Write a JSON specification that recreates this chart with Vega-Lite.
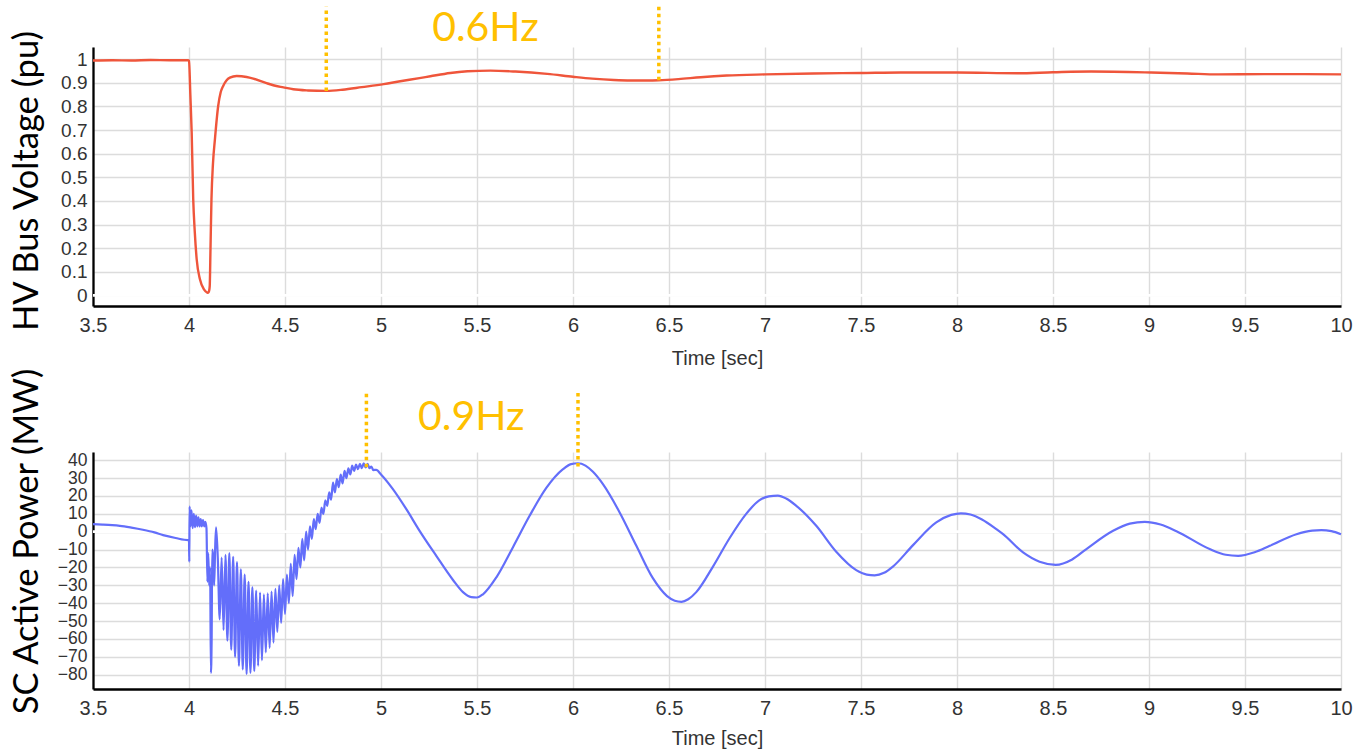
{
  "$schema": "https://vega.github.io/schema/vega-lite/v6.json",
  "background": "white",
  "padding": {"left": 8, "top": 5, "right": 12, "bottom": 2},
  "bounds": "flush",
  "spacing": 146,
  "config": {
    "font": "Liberation Sans",
    "view": {"stroke": null},
    "axis": {
      "domainColor": "#000000",
      "domainWidth": 2.3,
      "ticks": false,
      "gridColor": "#dcdcdc",
      "gridWidth": 1.4,
      "labelFont": "Liberation Sans",
      "labelColor": "#333333",
      "labelOverlap": false,
      "labelFlush": false
    },
    "axisX": {
      "labelFontSize": 20,
      "labelPadding": 9,
      "titleFont": "Liberation Sans",
      "titleFontSize": 20,
      "titleFontWeight": "normal",
      "titleColor": "#333333"
    },
    "axisY": {
      "labelFontSize": 19,
      "labelPadding": 6,
      "titleFont": "Lato",
      "titleFontSize": 34.5,
      "titleFontWeight": "normal",
      "titleColor": "#000000",
      "titleAngle": 270,
      "titleAlign": "center",
      "titleBaseline": "alphabetic",
      "titleX": -56
    }
  },
  "datasets": {
    "voltage": [
      {"t": 3.5, "v": 0.995}, {"t": 3.6, "v": 0.996}, {"t": 3.7, "v": 0.995}, {"t": 3.8, "v": 0.997}, {"t": 3.9, "v": 0.996},
      {"t": 3.995, "v": 0.996}, {"t": 4.0, "v": 0.994}, {"t": 4.007, "v": 0.85}, {"t": 4.014, "v": 0.689}, {"t": 4.022, "v": 0.407},
      {"t": 4.03, "v": 0.27}, {"t": 4.04, "v": 0.153}, {"t": 4.057, "v": 0.068}, {"t": 4.078, "v": 0.025}, {"t": 4.095, "v": 0.012},
      {"t": 4.1, "v": 0.011}, {"t": 4.105, "v": 0.02}, {"t": 4.108, "v": 0.04}, {"t": 4.112, "v": 0.2}, {"t": 4.117, "v": 0.407},
      {"t": 4.125, "v": 0.56}, {"t": 4.135, "v": 0.661}, {"t": 4.152, "v": 0.802}, {"t": 4.165, "v": 0.86}, {"t": 4.178, "v": 0.887},
      {"t": 4.195, "v": 0.91}, {"t": 4.213, "v": 0.922}, {"t": 4.248, "v": 0.929}, {"t": 4.3, "v": 0.925}, {"t": 4.335, "v": 0.918},
      {"t": 4.4, "v": 0.9}, {"t": 4.439, "v": 0.89}, {"t": 4.492, "v": 0.881}, {"t": 4.543, "v": 0.873}, {"t": 4.62, "v": 0.868},
      {"t": 4.715, "v": 0.866}, {"t": 4.8, "v": 0.871}, {"t": 4.9, "v": 0.882}, {"t": 5.014, "v": 0.895}, {"t": 5.1, "v": 0.907},
      {"t": 5.2, "v": 0.92}, {"t": 5.257, "v": 0.928}, {"t": 5.361, "v": 0.942}, {"t": 5.45, "v": 0.949}, {"t": 5.57, "v": 0.952},
      {"t": 5.7, "v": 0.948}, {"t": 5.866, "v": 0.938}, {"t": 6.0, "v": 0.926}, {"t": 6.1, "v": 0.918}, {"t": 6.213, "v": 0.912},
      {"t": 6.3, "v": 0.91}, {"t": 6.387, "v": 0.91}, {"t": 6.447, "v": 0.911}, {"t": 6.55, "v": 0.916}, {"t": 6.665, "v": 0.924},
      {"t": 6.8, "v": 0.931}, {"t": 7.0, "v": 0.936}, {"t": 7.25, "v": 0.94}, {"t": 7.5, "v": 0.942}, {"t": 7.708, "v": 0.944},
      {"t": 8.0, "v": 0.944}, {"t": 8.316, "v": 0.941}, {"t": 8.5, "v": 0.945}, {"t": 8.698, "v": 0.948}, {"t": 9.011, "v": 0.944},
      {"t": 9.2, "v": 0.94}, {"t": 9.359, "v": 0.936}, {"t": 9.6, "v": 0.937}, {"t": 9.8, "v": 0.937}, {"t": 10.0, "v": 0.936}
    ],
    "power": [
      {"t": 3.5, "v": 4.2}, {"t": 3.55, "v": 4.0}, {"t": 3.6, "v": 3.7}, {"t": 3.64, "v": 3.3}, {"t": 3.7, "v": 2.3},
      {"t": 3.76, "v": 1.1}, {"t": 3.82, "v": -0.4}, {"t": 3.865, "v": -1.9}, {"t": 3.93, "v": -3.5}, {"t": 3.995, "v": -4.7},
      {"t": 4.0, "v": -4.7}, {"t": 4.0015, "v": -16.8}, {"t": 4.003, "v": 14}, {"t": 4.008, "v": 3}, {"t": 4.013, "v": 12},
      {"t": 4.019, "v": 2}, {"t": 4.025, "v": 10}, {"t": 4.031, "v": 2.5}, {"t": 4.037, "v": 9}, {"t": 4.043, "v": 3},
      {"t": 4.049, "v": 8}, {"t": 4.055, "v": 3}, {"t": 4.061, "v": 7}, {"t": 4.067, "v": 3}, {"t": 4.073, "v": 6.5},
      {"t": 4.079, "v": 3}, {"t": 4.085, "v": 5.5}, {"t": 4.091, "v": 2}, {"t": 4.096, "v": -28}, {"t": 4.1, "v": -12},
      {"t": 4.105, "v": -30}, {"t": 4.11, "v": -20}, {"t": 4.114, "v": -79}, {"t": 4.118, "v": -60}, {"t": 4.121, "v": -10},
      {"t": 4.126, "v": -14}, {"t": 4.131, "v": -30}, {"t": 4.136, "v": -10}, {"t": 4.141, "v": 2.4}, {"t": 4.15, "v": -15},
      {"t": 4.16, "v": -49}, {"t": 4.17, "v": -14.5}, {"t": 4.18, "v": -55}, {"t": 4.19, "v": -13}, {"t": 4.2, "v": -61},
      {"t": 4.21, "v": -12}, {"t": 4.22, "v": -66}, {"t": 4.23, "v": -14}, {"t": 4.24, "v": -70}, {"t": 4.25, "v": -17},
      {"t": 4.26, "v": -75}, {"t": 4.27, "v": -21}, {"t": 4.28, "v": -77}, {"t": 4.29, "v": -24}, {"t": 4.3, "v": -79.6},
      {"t": 4.31, "v": -28}, {"t": 4.32, "v": -79}, {"t": 4.33, "v": -31}, {"t": 4.34, "v": -78}, {"t": 4.35, "v": -33},
      {"t": 4.36, "v": -75}, {"t": 4.37, "v": -34}, {"t": 4.38, "v": -72}, {"t": 4.39, "v": -35}, {"t": 4.4, "v": -67.5},
      {"t": 4.41, "v": -34.5}, {"t": 4.42, "v": -65}, {"t": 4.43, "v": -33.5}, {"t": 4.44, "v": -62}, {"t": 4.45, "v": -32},
      {"t": 4.46, "v": -56}, {"t": 4.47, "v": -30}, {"t": 4.48, "v": -51}, {"t": 4.49, "v": -26.5}, {"t": 4.5, "v": -46},
      {"t": 4.51, "v": -24}, {"t": 4.52, "v": -40}, {"t": 4.53, "v": -18}, {"t": 4.54, "v": -36}, {"t": 4.55, "v": -13},
      {"t": 4.56, "v": -26.5}, {"t": 4.57, "v": -9}, {"t": 4.58, "v": -20}, {"t": 4.59, "v": -4}, {"t": 4.6, "v": -16},
      {"t": 4.61, "v": 0}, {"t": 4.62, "v": -10}, {"t": 4.63, "v": 3}, {"t": 4.64, "v": -4}, {"t": 4.65, "v": 7},
      {"t": 4.66, "v": 1.4}, {"t": 4.67, "v": 10}, {"t": 4.68, "v": 5}, {"t": 4.69, "v": 13.5}, {"t": 4.7, "v": 10},
      {"t": 4.71, "v": 17.5}, {"t": 4.72, "v": 14.5}, {"t": 4.73, "v": 22}, {"t": 4.74, "v": 18}, {"t": 4.75, "v": 27.5},
      {"t": 4.76, "v": 22}, {"t": 4.77, "v": 29.5}, {"t": 4.78, "v": 25}, {"t": 4.79, "v": 32}, {"t": 4.8, "v": 27},
      {"t": 4.81, "v": 34}, {"t": 4.82, "v": 30}, {"t": 4.83, "v": 35.5}, {"t": 4.84, "v": 32}, {"t": 4.85, "v": 37},
      {"t": 4.86, "v": 34}, {"t": 4.87, "v": 37.5}, {"t": 4.88, "v": 35}, {"t": 4.89, "v": 38}, {"t": 4.9, "v": 35.5},
      {"t": 4.91, "v": 38.3}, {"t": 4.92, "v": 36}, {"t": 4.93, "v": 38}, {"t": 4.94, "v": 35.5}, {"t": 4.95, "v": 36.5},
      {"t": 4.96, "v": 34.5}, {"t": 4.975, "v": 34.6}, {"t": 5.0, "v": 32}, {"t": 5.062, "v": 23.8}, {"t": 5.132, "v": 12.6},
      {"t": 5.201, "v": 0.5}, {"t": 5.288, "v": -13.5}, {"t": 5.375, "v": -27}, {"t": 5.427, "v": -33.8}, {"t": 5.47, "v": -36.6},
      {"t": 5.5, "v": -36.8}, {"t": 5.531, "v": -35}, {"t": 5.601, "v": -25.5}, {"t": 5.688, "v": -8.5}, {"t": 5.774, "v": 8.9},
      {"t": 5.861, "v": 24.5}, {"t": 5.948, "v": 35}, {"t": 5.99, "v": 37.8}, {"t": 6.026, "v": 38.3}, {"t": 6.065, "v": 37},
      {"t": 6.104, "v": 33.5}, {"t": 6.156, "v": 26.6}, {"t": 6.243, "v": 10.8}, {"t": 6.33, "v": -7.9}, {"t": 6.416, "v": -26},
      {"t": 6.49, "v": -36}, {"t": 6.53, "v": -38.6}, {"t": 6.565, "v": -39.2}, {"t": 6.6, "v": -37.8}, {"t": 6.642, "v": -33.8},
      {"t": 6.729, "v": -19.5}, {"t": 6.816, "v": -3.5}, {"t": 6.902, "v": 10}, {"t": 6.97, "v": 17.5}, {"t": 7.02, "v": 19.8},
      {"t": 7.067, "v": 20.2}, {"t": 7.11, "v": 18.6}, {"t": 7.163, "v": 14.5}, {"t": 7.267, "v": 3.3}, {"t": 7.371, "v": -11.2},
      {"t": 7.475, "v": -21.5}, {"t": 7.53, "v": -24}, {"t": 7.571, "v": -24.4}, {"t": 7.62, "v": -23}, {"t": 7.666, "v": -19.5},
      {"t": 7.771, "v": -7.5}, {"t": 7.892, "v": 5.2}, {"t": 7.97, "v": 9.4}, {"t": 8.02, "v": 10.3}, {"t": 8.07, "v": 9.6},
      {"t": 8.13, "v": 6.8}, {"t": 8.205, "v": 1.4}, {"t": 8.24, "v": -1.4}, {"t": 8.344, "v": -11.6}, {"t": 8.43, "v": -16.8},
      {"t": 8.514, "v": -18.5}, {"t": 8.6, "v": -15.5}, {"t": 8.674, "v": -9.7}, {"t": 8.813, "v": 0.5}, {"t": 8.9, "v": 4.5},
      {"t": 8.978, "v": 5.5}, {"t": 9.06, "v": 4}, {"t": 9.143, "v": 0.3}, {"t": 9.316, "v": -9.7}, {"t": 9.4, "v": -12.9},
      {"t": 9.464, "v": -13.5}, {"t": 9.55, "v": -11.5}, {"t": 9.629, "v": -7.9}, {"t": 9.768, "v": -1.4}, {"t": 9.85, "v": 0.6},
      {"t": 9.898, "v": 0.9}, {"t": 9.95, "v": 0.3}, {"t": 10.0, "v": -1.4}
    ],
    "zeroLine": [{"t": 3.5, "t2": 10, "v": 0}],
    "markV": [{"t": 4.715, "v": 0.866, "v2": 1.222}, {"t": 6.447, "v": 0.911, "v2": 1.222}],
    "labelV": [{"t": 5.544, "v": 1.079, "label": "0.6Hz"}],
    "markP": [{"t": 4.924, "v": 36, "v2": 77.8}, {"t": 6.026, "v": 36.5, "v2": 77.8}],
    "labelP": [{"t": 5.47, "v": 56.9, "label": "0.9Hz"}]
  },
  "vconcat": [
    {
      "width": 1248,
      "height": 259,
      "encoding": {
        "x": {
          "field": "t", "type": "quantitative",
          "scale": {"domain": [3.5, 10], "nice": false, "zero": false},
          "axis": {"title": "Time [sec]", "titlePadding": 13, "format": "~g", "values": [3.5, 4, 4.5, 5, 5.5, 6, 6.5, 7, 7.5, 8, 8.5, 9, 9.5, 10]}
        },
        "y": {
          "field": "v", "type": "quantitative",
          "scale": {"domain": [-0.045, 1.052], "nice": false, "zero": false},
          "axis": {"title": "HV Bus Voltage (pu)", "titleY": 133.5, "format": "~g", "values": [0, 0.1, 0.2, 0.3, 0.4, 0.5, 0.6, 0.7, 0.8, 0.9, 1]}
        }
      },
      "layer": [
        {"data": {"name": "zeroLine"}, "mark": {"type": "rule", "color": "#ffffff", "strokeWidth": 2.8}, "encoding": {"x2": {"field": "t2"}}},
        {"data": {"name": "voltage"}, "mark": {"type": "line", "color": "#EF553B", "strokeWidth": 2.4, "interpolate": "monotone"}},
        {"data": {"name": "markV"}, "mark": {"type": "rule", "color": "#FFC000", "strokeWidth": 3.5, "strokeDash": [3.5, 3.5]}, "encoding": {"y2": {"field": "v2"}}},
        {"data": {"name": "labelV"}, "mark": {"type": "text", "color": "#FFC000", "font": "Lato", "fontSize": 41, "align": "center", "baseline": "alphabetic"}, "encoding": {"text": {"field": "label"}}}
      ]
    },
    {
      "width": 1248,
      "height": 237,
      "encoding": {
        "x": {
          "field": "t", "type": "quantitative",
          "scale": {"domain": [3.5, 10], "nice": false, "zero": false},
          "axis": {"title": "Time [sec]", "titlePadding": 10, "format": "~g", "values": [3.5, 4, 4.5, 5, 5.5, 6, 6.5, 7, 7.5, 8, 8.5, 9, 9.5, 10]}
        },
        "y": {
          "field": "v", "type": "quantitative",
          "scale": {"domain": [-88, 44.6], "nice": false, "zero": false},
          "axis": {"title": "SC Active Power (MW)", "titleY": 89, "format": "d", "labelFontSize": 17.5, "values": [-80, -70, -60, -50, -40, -30, -20, -10, 0, 10, 20, 30, 40]}
        }
      },
      "layer": [
        {"data": {"name": "zeroLine"}, "mark": {"type": "rule", "color": "#ffffff", "strokeWidth": 2.8}, "encoding": {"x2": {"field": "t2"}}},
        {"data": {"name": "power"}, "mark": {"type": "line", "color": "#636EFA", "strokeWidth": 2.2, "interpolate": "monotone"}},
        {"data": {"name": "markP"}, "mark": {"type": "rule", "color": "#FFC000", "strokeWidth": 3.5, "strokeDash": [3.5, 3.5]}, "encoding": {"y2": {"field": "v2"}}},
        {"data": {"name": "labelP"}, "mark": {"type": "text", "color": "#FFC000", "font": "Lato", "fontSize": 41, "align": "center", "baseline": "alphabetic"}, "encoding": {"text": {"field": "label"}}}
      ]
    }
  ]
}
